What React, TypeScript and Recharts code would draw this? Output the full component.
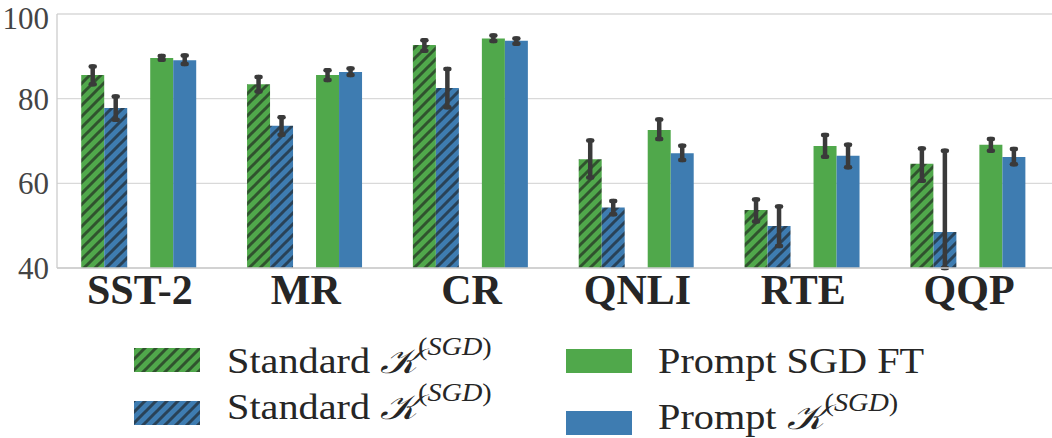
import React from 'react';
import { BarChart, Bar, XAxis, YAxis, CartesianGrid, ErrorBar } from 'recharts';

const categories = ['SST-2', 'MR', 'CR', 'QNLI', 'RTE', 'QQP'];
const yTicks = [40, 60, 80, 100];

// Standard K(SGD), green hatched
const stdGreen = [85.6, 83.4, 92.7, 65.7, 53.7, 64.6];
const stdGreenLo = [83.4, 81.7, 91.3, 61.4, 51.0, 60.6];
const stdGreenHi = [87.6, 85.1, 93.8, 70.1, 56.2, 68.2];
// Standard K(SGD), blue hatched
const stdBlue = [77.8, 73.6, 82.5, 54.3, 49.9, 48.5];
const stdBlueLo = [75.0, 71.5, 78.0, 52.7, 45.2, 40.0];
const stdBlueHi = [80.5, 75.6, 87.0, 55.8, 54.5, 67.7];
// Prompt SGD FT
const promptFT = [89.6, 85.6, 94.2, 72.6, 68.8, 69.1];
const promptFTLo = [89.2, 84.4, 93.6, 70.5, 66.3, 67.7];
const promptFTHi = [90.1, 86.7, 94.9, 75.1, 71.4, 70.5];
// Prompt K(SGD)
const promptK = [89.1, 86.3, 93.7, 67.1, 66.5, 66.2];
const promptKLo = [88.2, 85.6, 93.0, 65.5, 63.8, 64.5];
const promptKHi = [90.2, 87.1, 94.2, 68.9, 69.1, 68.1];

const GREEN = '#50a84b';
const BLUE = '#3e7cb1';
const ERR = '#3a3a3a';
const SERIF = '"Liberation Serif", "Times New Roman", serif';

const data = categories.map((name, i) => ({
  name,
  stdGreen: stdGreen[i],
  stdGreenErr: [stdGreen[i] - stdGreenLo[i], stdGreenHi[i] - stdGreen[i]],
  stdBlue: stdBlue[i],
  stdBlueErr: [stdBlue[i] - stdBlueLo[i], stdBlueHi[i] - stdBlue[i]],
  gap: null,
  promptFT: promptFT[i],
  promptFTErr: [promptFT[i] - promptFTLo[i], promptFTHi[i] - promptFT[i]],
  promptK: promptK[i],
  promptKErr: [promptK[i] - promptKLo[i], promptKHi[i] - promptK[i]],
}));

const Hatch = ({ id, color }: { id: string; color: string }) => (
  <pattern id={id} patternUnits="userSpaceOnUse" width={11} height={11}>
    <rect width={11} height={11} fill={color} />
    <path d="M-1,1 l2,-2 M0,11 l11,-11 M10,12 l2,-2" stroke="#1a1a1a" strokeOpacity={0.6} strokeWidth={3} />
  </pattern>
);

const Swatch = ({ color, hatched, id }: { color: string; hatched?: boolean; id: string }) => (
  <svg width={66} height={24} style={{ display: 'block' }}>
    {hatched && (
      <defs>
        <Hatch id={id} color={color} />
      </defs>
    )}
    <rect width={66} height={24} fill={hatched ? `url(#${id})` : color} />
  </svg>
);

const KLabel = ({ prefix }: { prefix: string }) => (
  <span>
    {prefix} <span style={{ fontStyle: 'italic' }}>𝒦</span>
    <span style={{ fontSize: '0.7em', position: 'relative', top: '-0.75em', fontFamily: SERIF }}>
      (<i>SGD</i>)
    </span>
  </span>
);

const legendText: React.CSSProperties = {
  position: 'absolute',
  fontFamily: SERIF,
  fontSize: 35,
  color: '#262626',
  lineHeight: 1,
  whiteSpace: 'nowrap',
  transform: 'scaleX(1.15)',
  transformOrigin: 'left center',
};

export default function App() {
  const errProps = { width: 2, strokeWidth: 4.5, stroke: ERR };
  return (
    <div
      style={{
        position: 'absolute',
        left: 0,
        top: 0,
        width: 1052,
        height: 438,
        background: '#fff',
        fontFamily: SERIF,
      }}
    >
      <style>{'.recharts-errorBar line { stroke-linecap: round; }'}</style>
      <BarChart
        width={1052}
        height={330}
        data={data}
        margin={{ top: 14, right: 0, bottom: 0, left: 0 }}
        barCategoryGap="14.6%"
        barGap={0}
        style={{ fontFamily: SERIF }}
      >
        <defs>
          <Hatch id="hatchGreen" color={GREEN} />
          <Hatch id="hatchBlue" color={BLUE} />
        </defs>
        <CartesianGrid vertical={false} stroke="#d9d9d9" strokeWidth={1.3} />
        <XAxis
          dataKey="name"
          height={62}
          tickLine={false}
          tickMargin={0}
          axisLine={{ stroke: '#cccccc', strokeWidth: 1.3 }}
          tick={{ fill: '#262626', fontSize: 42, fontWeight: 700, fontFamily: SERIF }}
        />
        <YAxis
          width={57}
          domain={[40, 100]}
          ticks={yTicks}
          allowDataOverflow
          tickLine={false}
          axisLine={{ stroke: '#cccccc', strokeWidth: 1.3 }}
          tick={{ fill: '#444444', fontSize: 31, fontFamily: SERIF }}
        />
        <Bar dataKey="stdGreen" fill="url(#hatchGreen)" isAnimationActive={false}>
          <ErrorBar dataKey="stdGreenErr" {...errProps} />
        </Bar>
        <Bar dataKey="stdBlue" fill="url(#hatchBlue)" isAnimationActive={false}>
          <ErrorBar dataKey="stdBlueErr" {...errProps} />
        </Bar>
        <Bar dataKey="gap" fill="none" isAnimationActive={false} />
        <Bar dataKey="promptFT" fill={GREEN} isAnimationActive={false}>
          <ErrorBar dataKey="promptFTErr" {...errProps} />
        </Bar>
        <Bar dataKey="promptK" fill={BLUE} isAnimationActive={false}>
          <ErrorBar dataKey="promptKErr" {...errProps} />
        </Bar>
      </BarChart>

      <div style={{ position: 'absolute', left: 134, top: 348 }}>
        <Swatch color={GREEN} hatched id="lgGreen" />
      </div>
      <div style={{ ...legendText, left: 227, top: 344 }}>
        <KLabel prefix="Standard" />
      </div>
      <div style={{ position: 'absolute', left: 134, top: 401 }}>
        <Swatch color={BLUE} hatched id="lgBlue" />
      </div>
      <div style={{ ...legendText, left: 227, top: 390 }}>
        <KLabel prefix="Standard" />
      </div>
      <div style={{ position: 'absolute', left: 566, top: 349 }}>
        <Swatch color={GREEN} id="lgFT" />
      </div>
      <div style={{ ...legendText, left: 658, top: 344 }}>Prompt SGD FT</div>
      <div style={{ position: 'absolute', left: 566, top: 411 }}>
        <Swatch color={BLUE} id="lgK" />
      </div>
      <div style={{ ...legendText, left: 658, top: 400 }}>
        <KLabel prefix="Prompt" />
      </div>
    </div>
  );
}
